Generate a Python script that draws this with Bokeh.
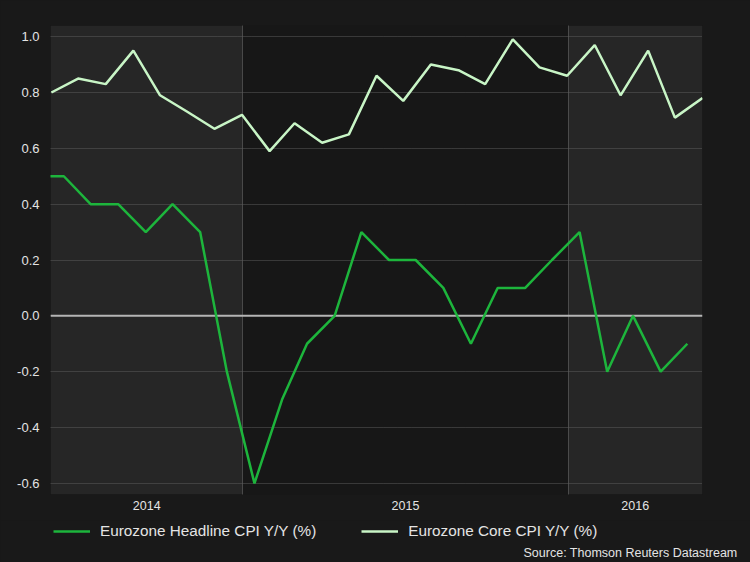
import pandas as pd
from bokeh.plotting import figure
from bokeh.layouts import column
from bokeh.models import (Range1d, FixedTicker, Legend, LegendItem, BoxAnnotation,
                          Span, Label, NumeralTickFormatter)
from bokeh.embed import file_html
from bokeh.resources import INLINE

# ---------------- data ----------------
headline_dates = ["2014-05-14", "2014-06-14", "2014-07-14", "2014-08-14", "2014-09-14",
                  "2014-10-14", "2014-11-14", "2014-12-14", "2015-01-14", "2015-02-14",
                  "2015-03-14", "2015-04-14", "2015-05-14", "2015-06-14", "2015-07-14",
                  "2015-08-14", "2015-09-14", "2015-10-14", "2015-11-14", "2015-12-14",
                  "2016-01-14", "2016-02-14", "2016-03-14", "2016-04-14", "2016-05-14"]
headline_values = [0.5, 0.5, 0.4, 0.4, 0.3, 0.4, 0.3, -0.2, -0.6, -0.3,
                   -0.1, 0.0, 0.3, 0.2, 0.2, 0.1, -0.1, 0.1, 0.1, 0.2,
                   0.3, -0.2, 0.0, -0.2, -0.1]

core_dates = ["2014-05-31", "2014-06-30", "2014-07-31", "2014-08-31", "2014-09-30",
              "2014-10-31", "2014-11-30", "2014-12-31", "2015-01-31", "2015-02-28",
              "2015-03-31", "2015-04-30", "2015-05-31", "2015-06-30", "2015-07-31",
              "2015-08-31", "2015-09-30", "2015-10-31", "2015-11-30", "2015-12-31",
              "2016-01-31", "2016-02-29", "2016-03-31", "2016-04-30", "2016-05-31"]
core_values = [0.80, 0.85, 0.83, 0.95, 0.79, 0.73, 0.67, 0.72, 0.59, 0.69,
               0.62, 0.65, 0.86, 0.77, 0.90, 0.88, 0.83, 0.99, 0.89, 0.86,
               0.97, 0.79, 0.95, 0.71, 0.78]

series_names = ["Eurozone Headline CPI Y/Y (%)", "Eurozone Core CPI Y/Y (%)"]
series_colors = ["#1db53c", "#c8f5c6"]
year_labels = ["2014", "2015", "2016"]
year_boundaries = ["2015-01-01", "2016-01-01"]
view_start, view_end = "2014-05-30", "2016-05-31"
y_ticks = [-0.6, -0.4, -0.2, 0.0, 0.2, 0.4, 0.6, 0.8, 1.0]
source_text = "Source: Thomson Reuters Datastream"

# ---------------- helpers ----------------
def ms(d):
    return int(pd.Timestamp(d).value // 10**6)

bounds = [ms(view_start)] + [ms(b) for b in year_boundaries] + [ms(view_end)]
centers = [(bounds[i] + bounds[i + 1]) // 2 for i in range(len(bounds) - 1)]

BG = "#191919"
FONT = "Liberation Sans"
TXT = "#e4e4e4"
Y0, Y1 = -0.64, 1.04
W = 750

# ---------------- main chart ----------------
p = figure(width=W, height=520, x_axis_type="datetime",
           output_backend="svg", toolbar_location=None,
           x_range=Range1d(ms(view_start), ms(view_end)),
           y_range=Range1d(Y0, Y1),
           background_fill_color="#171717", border_fill_color=BG,
           min_border_left=50, min_border_right=48, min_border_top=25,
           min_border_bottom=26, outline_line_color=None)

for i in (0, 2):
    p.add_layout(BoxAnnotation(left=bounds[i], right=bounds[i + 1],
                               fill_color="#262626", fill_alpha=1.0,
                               line_color=None, level="image"))

p.add_layout(Span(location=0, dimension="width", line_color="#b5b5b5",
                  line_width=2, level="underlay"))

p.line(pd.to_datetime(headline_dates), headline_values,
       line_color=series_colors[0], line_width=2.5)
p.line(pd.to_datetime(core_dates), core_values,
       line_color=series_colors[1], line_width=2.5)

p.yaxis.ticker = FixedTicker(ticks=y_ticks)
p.yaxis.formatter = NumeralTickFormatter(format="0.0")
p.xaxis.ticker = FixedTicker(ticks=centers)
p.xaxis.major_label_overrides = {c: lab for c, lab in zip(centers, year_labels)}
for ax in (p.xaxis, p.yaxis):
    ax.axis_line_color = None
    ax.major_tick_line_color = None
    ax.minor_tick_line_color = None
    ax.major_tick_out = 0
    ax.major_tick_in = 0
    ax.major_label_text_color = TXT
    ax.major_label_text_font = FONT
p.yaxis.major_label_text_font_size = "13px"
p.yaxis.major_label_standoff = 11
p.xaxis.major_label_text_font_size = "12.5px"
p.xaxis.major_label_standoff = 6

p.ygrid.ticker = FixedTicker(ticks=y_ticks)
p.ygrid.grid_line_color = "#5c5c5c"
p.ygrid.grid_line_dash = "1 1"
p.xgrid.ticker = FixedTicker(ticks=[ms(b) for b in year_boundaries])
p.xgrid.grid_line_color = "#707070"
p.xgrid.grid_line_dash = "1 1"

# ---------------- legend / source strip ----------------
p2 = figure(width=W, height=42, output_backend="svg", toolbar_location=None,
            x_range=Range1d(0, W), y_range=Range1d(0, 42),
            background_fill_color=BG, border_fill_color=BG,
            min_border=0, outline_line_color=None)
p2.frame_align = False
p2.axis.visible = False
p2.grid.visible = False
# same series (outside this strip's view) only serve as legend swatches
k1 = p2.line(pd.to_datetime(headline_dates), headline_values,
             line_color=series_colors[0], line_width=2.5)
k2 = p2.line(pd.to_datetime(core_dates), core_values,
             line_color=series_colors[1], line_width=2.5)

legend = Legend(items=[LegendItem(label=series_names[0], renderers=[k1]),
                       LegendItem(label=series_names[1], renderers=[k2])],
                orientation="horizontal", location=(53, 22),
                margin=0, padding=0, spacing=45,
                glyph_width=37, glyph_height=16, label_standoff=10,
                label_text_font_size="15.3px", label_text_color=TXT,
                label_text_font=FONT,
                background_fill_alpha=0, border_line_alpha=0)
p2.add_layout(legend, "center")

p2.add_layout(Label(x=737, y=10, text=source_text, text_align="right",
                    text_baseline="middle", text_font_size="12.5px",
                    text_color=TXT, text_font=FONT))

layout = column(p, p2, spacing=0)
html = file_html(layout, INLINE)
html = html.replace("</head>", "<style>body{background:%s;}</style></head>" % BG, 1)
open("out.html", "w").write(html)
